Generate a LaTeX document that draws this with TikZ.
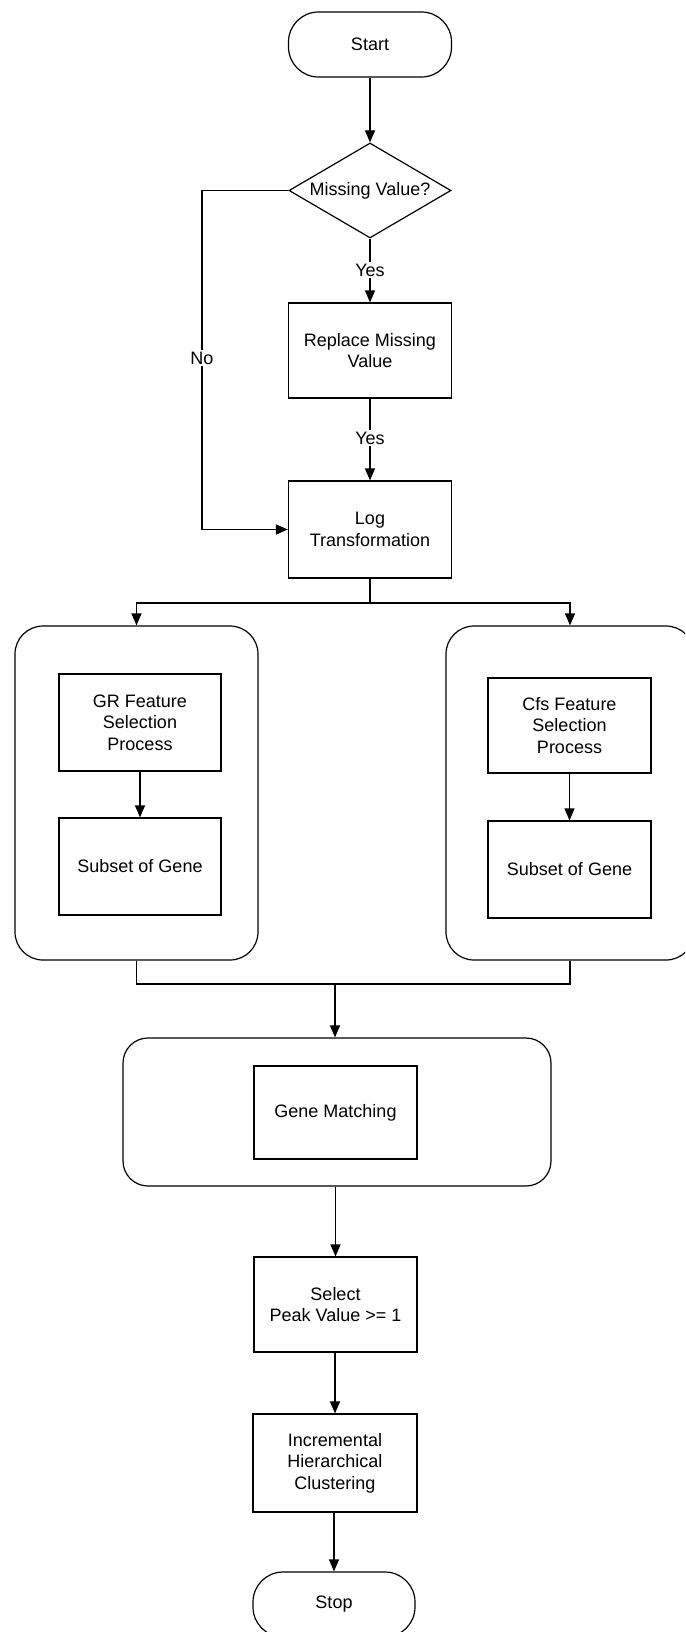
\documentclass[tikz,border=0pt]{standalone}
\usepackage{fontspec}
\setmainfont{Liberation Sans}
\usetikzlibrary{shapes.geometric,arrows.meta}
\begin{document}
\begin{tikzpicture}[x=1pt,y=-1pt,
  line width=1.2pt,
  every node/.style={font=\fontsize{18}{21.5}\selectfont},
  box/.style={draw, rectangle, minimum width=163pt, minimum height=96pt, inner sep=0pt, align=center},
  term/.style={draw, rectangle, rounded corners=30pt, minimum width=163pt, minimum height=65pt, inner sep=0pt},
  group/.style={draw, rectangle, rounded corners=28pt, inner sep=0pt},
  lbl/.style={fill=white, inner sep=2pt},
  arr/.style={-{Triangle[length=12pt,width=10pt]}}
]
\clip (0,0) rectangle (685,1632);
\fill[white] (0,0) rectangle (685,1632);

% top column
\node[term] (start) at (370,44.5) {Start};
\node[draw, diamond, aspect=1.7, minimum width=162pt, minimum height=95pt, inner sep=0pt] (dec) at (370,190.5) {Missing Value?};
\node[box, minimum height=95pt] (rep) at (370,350.5) {Replace Missing\\Value};
\node[box, minimum height=97pt] (log) at (370,529.5) {Log\\Transformation};

% groups
\node[group, minimum width=243pt, minimum height=334pt] (lg) at (136.5,793) {};
\node[group, minimum width=248pt, minimum height=334pt] (rg) at (570,793) {};
\node[box, minimum width=162pt, minimum height=97pt] (gr) at (140,722.5) {GR Feature\\Selection\\Process};
\node[box, minimum width=162pt, minimum height=97pt] (subl) at (140,866.5) {Subset of Gene};
\node[box, minimum width=163pt, minimum height=95pt] (cfs) at (569.5,725.5) {Cfs Feature\\Selection\\Process};
\node[box, minimum width=163pt, minimum height=97pt] (subr) at (569.5,869.5) {Subset of Gene};

% gene matching
\node[group, rounded corners=25pt, minimum width=428pt, minimum height=148pt] (gmg) at (337,1112) {};
\node[box, minimum width=163pt, minimum height=93pt] (gm) at (335.5,1112.5) {Gene Matching};

% bottom column
\node[box, minimum height=95pt] (sel) at (335.5,1304.5) {Select\\Peak Value >= 1};
\node[box, minimum width=164pt, minimum height=98pt] (inc) at (335,1463) {Incremental\\Hierarchical\\Clustering};
\node[term, minimum width=162pt] (stop) at (334,1604.5) {Stop};

% coordinates
\coordinate (n2) at (202,529.5);
\coordinate (split) at (370,603);
\coordinate (merge) at (335,984);

% connectors
\draw[arr] (start) -- (dec.north);
\draw[arr] (dec.south) -- (rep.north);
\node[lbl] (yes1) at (370,270) {Yes};
\draw[arr] (rep.south) -- (log.north);
\node[lbl] (yes2) at (370,438) {Yes};
\draw[arr] (dec.west) -| (n2) -- (log.west);
\node[lbl] (no) at (202,358) {No};

\draw (log.south) -- (split);
\draw[arr] (split) -| (lg.north);
\draw[arr] (split) -| (rg.north);
\draw[arr] (gr.south) -- (gr.south |- subl.north);
\draw[arr] (cfs.south) -- (subr.north);

\draw (lg.south) |- (merge);
\draw (rg.south) |- (merge);
\draw[arr] (merge) -- (merge |- gmg.north);
\draw[arr] (sel.north |- gmg.south) -- (sel.north);
\draw[arr] (inc.north |- sel.south) -- (inc.north);
\draw[arr] (stop.north |- inc.south) -- (stop.north);
\end{tikzpicture}
\end{document}
